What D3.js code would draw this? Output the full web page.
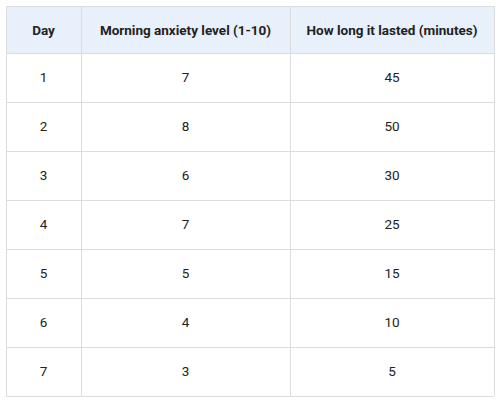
<!DOCTYPE html>
<html><head><meta charset="utf-8">
<script src="https://cdn.jsdelivr.net/npm/d3@7"></script>
<style>body{margin:0;background:#fff;font-family:Roboto,sans-serif;}</style>
</head><body><svg id="chart"></svg>
<script>
const headers = ['Day', 'Morning anxiety level (1-10)', 'How long it lasted (minutes)'];
const days = ['1', '2', '3', '4', '5', '6', '7'];
const anxiety = [7, 8, 6, 7, 5, 4, 3];
const minutes = [45, 50, 30, 25, 15, 10, 5];

const svg = d3.select('#chart').attr('width', 500).attr('height', 400);
const colEdges = [6, 81, 290, 494];
const rowEdges = [6, 53];
for (let i = 0; i < days.length; i++) rowEdges.push(53 + (i + 1) * 49);

const rows = days.map((d, i) => [d, anxiety[i], minutes[i]]);

// Header background
svg.append('rect').attr('x', 6).attr('y', 6).attr('width', 488).attr('height', 47).attr('fill', '#e8f0fc');

// Grid lines
svg.selectAll('.h').data(rowEdges).enter().append('line')
    .attr('x1', 6).attr('x2', 494).attr('y1', d => d + 0.5).attr('y2', d => d + 0.5)
    .attr('stroke', '#dcdcdc');
svg.selectAll('.v').data(colEdges).enter().append('line')
    .attr('y1', 6).attr('y2', rowEdges[rowEdges.length - 1]).attr('x1', d => d + 0.5).attr('x2', d => d + 0.5)
    .attr('stroke', '#dcdcdc');

const cx = i => (colEdges[i] + colEdges[i + 1]) / 2;

svg.selectAll('.hd').data(headers).enter().append('text')
    .attr('x', (d, i) => cx(i)).attr('y', 30).attr('dy', '0.35em')
    .attr('text-anchor', 'middle').attr('font-size', '13.5px').attr('font-weight', '700').attr('fill', '#222')
    .text(d => d);

rows.forEach((r, ri) => {
    r.forEach((v, ci) => {
        svg.append('text')
            .attr('x', cx(ci)).attr('y', (rowEdges[ri + 1] + rowEdges[ri + 2]) / 2).attr('dy', '0.35em')
            .attr('text-anchor', 'middle').attr('font-size', '13.5px').attr('fill', '#222')
            .text(v);
    });
});
</script></body></html>
